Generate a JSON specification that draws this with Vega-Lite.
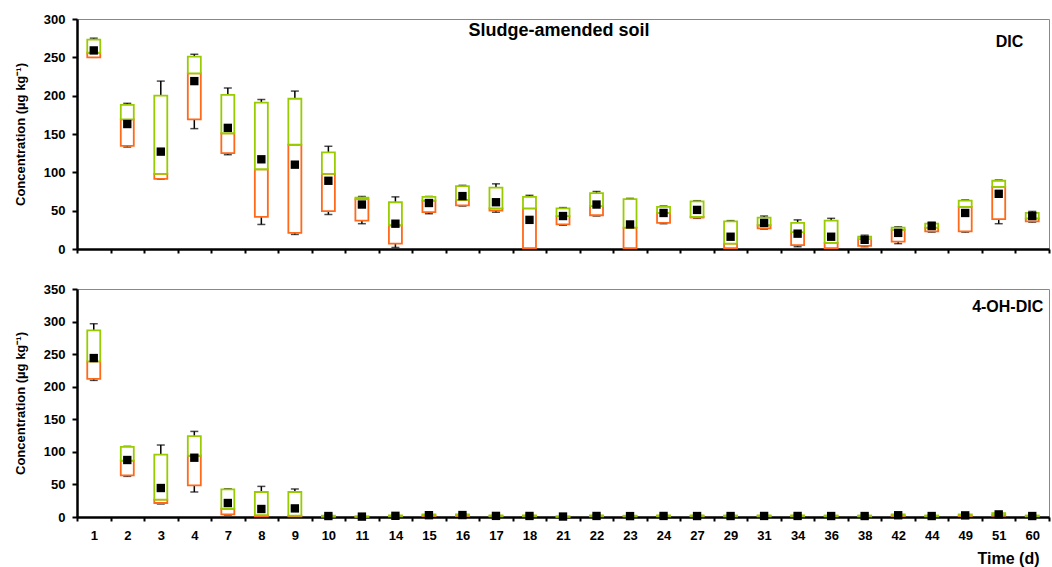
{
  "$schema": "https://vega.github.io/schema/vega-lite/v6.json",
  "padding": {"left": 13, "top": 12, "right": 2, "bottom": 5},
  "bounds": "flush",
  "spacing": 40,
  "config": {
    "font": "Liberation Sans",
    "view": {"stroke": "#888888", "strokeWidth": 1},
    "axis": {
      "domainColor": "black", "domainWidth": 2.5,
      "tickColor": "black", "tickWidth": 2,
      "labelColor": "black", "labelFontWeight": "bold", "labelFontSize": 13,
      "titleColor": "black", "titleFontWeight": "bold", "grid": false
    },
    "axisY": {"title": "Concentration (µg kg⁻¹)", "titleFontSize": 13, "titlePadding": 16, "tickSize": 5, "labelPadding": 7, "labelOverlap": false}
  },
  "datasets": {
    "dic": [
      {"time": "1", "min": 250, "q1": 250, "median": 256, "q3": 273, "max": 275, "mean": 259},
      {"time": "2", "min": 133, "q1": 134.5, "median": 169, "q3": 188, "max": 190, "mean": 163},
      {"time": "3", "min": 91, "q1": 91.5, "median": 98, "q3": 200, "max": 219, "mean": 127},
      {"time": "4", "min": 157, "q1": 169, "median": 229, "q3": 251, "max": 254, "mean": 219},
      {"time": "7", "min": 123, "q1": 125, "median": 151, "q3": 201, "max": 210, "mean": 158},
      {"time": "8", "min": 32, "q1": 42, "median": 104, "q3": 191, "max": 195, "mean": 117},
      {"time": "9", "min": 19, "q1": 21, "median": 136, "q3": 196, "max": 206, "mean": 110},
      {"time": "10", "min": 45, "q1": 49.5, "median": 98, "q3": 126, "max": 134, "mean": 89},
      {"time": "11", "min": 33, "q1": 37, "median": 65, "q3": 67, "max": 68.5, "mean": 58},
      {"time": "14", "min": 2, "q1": 7, "median": 31, "q3": 61, "max": 68, "mean": 33},
      {"time": "15", "min": 46, "q1": 48, "median": 63, "q3": 68, "max": 68.5, "mean": 60},
      {"time": "16", "min": 56, "q1": 57, "median": 64, "q3": 82, "max": 83, "mean": 69},
      {"time": "17", "min": 48, "q1": 50, "median": 53, "q3": 80, "max": 85, "mean": 61},
      {"time": "18", "min": 0, "q1": 1, "median": 53, "q3": 68, "max": 70, "mean": 38},
      {"time": "21", "min": 31, "q1": 32, "median": 43, "q3": 53, "max": 54, "mean": 43},
      {"time": "22", "min": 43, "q1": 44, "median": 56, "q3": 73, "max": 75, "mean": 58},
      {"time": "23", "min": 0, "q1": 1, "median": 28, "q3": 65, "max": 66, "mean": 32},
      {"time": "24", "min": 33, "q1": 34, "median": 47, "q3": 55, "max": 56, "mean": 47},
      {"time": "27", "min": 40, "q1": 41, "median": 42, "q3": 62, "max": 63, "mean": 51},
      {"time": "29", "min": 0, "q1": 1, "median": 7, "q3": 36, "max": 37, "mean": 16},
      {"time": "31", "min": 26, "q1": 27, "median": 31, "q3": 41, "max": 43, "mean": 34},
      {"time": "34", "min": 3, "q1": 5, "median": 22, "q3": 34, "max": 38, "mean": 20},
      {"time": "36", "min": 0, "q1": 1, "median": 8, "q3": 37, "max": 40, "mean": 16},
      {"time": "38", "min": 3, "q1": 4, "median": 13, "q3": 16, "max": 18, "mean": 12},
      {"time": "42", "min": 7, "q1": 9.5, "median": 25, "q3": 28, "max": 29, "mean": 21},
      {"time": "44", "min": 22, "q1": 23, "median": 28, "q3": 33, "max": 35, "mean": 30},
      {"time": "49", "min": 22, "q1": 23, "median": 55, "q3": 63, "max": 64, "mean": 47},
      {"time": "51", "min": 33, "q1": 39, "median": 81, "q3": 89, "max": 90, "mean": 72},
      {"time": "60", "min": 35, "q1": 36, "median": 40, "q3": 47, "max": 49, "mean": 43}
    ],
    "oh": [
      {"time": "1", "min": 209.7, "q1": 212, "median": 239, "q3": 286.5, "max": 296.7, "mean": 244},
      {"time": "2", "min": 62.4, "q1": 64, "median": 86.4, "q3": 107.5, "max": 108.4, "mean": 87.5},
      {"time": "3", "min": 20, "q1": 21.5, "median": 26.6, "q3": 95.6, "max": 110.5, "mean": 44.5},
      {"time": "4", "min": 38.4, "q1": 48.5, "median": 94, "q3": 124.3, "max": 131.4, "mean": 91},
      {"time": "7", "min": 3, "q1": 4, "median": 12.7, "q3": 42.4, "max": 43.4, "mean": 21.5},
      {"time": "8", "min": 0.5, "q1": 1, "median": 3, "q3": 38.4, "max": 47, "mean": 12.3},
      {"time": "9", "min": 0.5, "q1": 1, "median": 2, "q3": 38.4, "max": 43, "mean": 13.2},
      {"time": "10", "min": 0, "q1": 0.5, "median": 1, "q3": 2, "max": 3, "mean": 1.5},
      {"time": "11", "min": 0, "q1": 0.2, "median": 0.5, "q3": 1, "max": 1.5, "mean": 0.6},
      {"time": "14", "min": 0.5, "q1": 1, "median": 1.5, "q3": 2.5, "max": 3, "mean": 1.8},
      {"time": "15", "min": 1, "q1": 1.5, "median": 2.5, "q3": 4, "max": 5, "mean": 2.8},
      {"time": "16", "min": 1, "q1": 1.5, "median": 2.5, "q3": 4, "max": 5, "mean": 3},
      {"time": "17", "min": 0.5, "q1": 1, "median": 1.5, "q3": 2.5, "max": 3, "mean": 1.7},
      {"time": "18", "min": 0.5, "q1": 1, "median": 1.5, "q3": 2.5, "max": 3, "mean": 1.6},
      {"time": "21", "min": 0, "q1": 0.2, "median": 0.5, "q3": 1, "max": 1.5, "mean": 0.7},
      {"time": "22", "min": 0.5, "q1": 1, "median": 1.5, "q3": 2.5, "max": 3, "mean": 1.6},
      {"time": "23", "min": 0.5, "q1": 1, "median": 1.2, "q3": 2, "max": 2.5, "mean": 1.4},
      {"time": "24", "min": 0.5, "q1": 1, "median": 1.5, "q3": 2.5, "max": 3, "mean": 1.6},
      {"time": "27", "min": 0.5, "q1": 1, "median": 1.5, "q3": 2.5, "max": 3, "mean": 1.5},
      {"time": "29", "min": 0.5, "q1": 1, "median": 1.3, "q3": 2.3, "max": 3, "mean": 1.5},
      {"time": "31", "min": 0.5, "q1": 1, "median": 1.5, "q3": 2.5, "max": 3, "mean": 1.6},
      {"time": "34", "min": 0.5, "q1": 1, "median": 1.5, "q3": 2.5, "max": 3, "mean": 1.6},
      {"time": "36", "min": 0.5, "q1": 1, "median": 1.3, "q3": 2.3, "max": 3, "mean": 1.5},
      {"time": "38", "min": 0.5, "q1": 1, "median": 1.3, "q3": 2.3, "max": 3, "mean": 1.5},
      {"time": "42", "min": 1, "q1": 1.5, "median": 2.5, "q3": 4, "max": 5, "mean": 2.7},
      {"time": "44", "min": 0.5, "q1": 1, "median": 1.3, "q3": 2.3, "max": 3, "mean": 1.5},
      {"time": "49", "min": 1, "q1": 1.5, "median": 2.5, "q3": 4, "max": 5, "mean": 2.5},
      {"time": "51", "min": 1.5, "q1": 2, "median": 3.5, "q3": 6, "max": 7, "mean": 4},
      {"time": "60", "min": 0.5, "q1": 1, "median": 1.3, "q3": 2.3, "max": 3, "mean": 1.5}
    ]
  },
  "vconcat": [
    {
      "width": 972,
      "height": 230,
      "data": {"name": "dic"},
      "encoding": {
        "x": {
          "field": "time", "type": "ordinal",
          "scale": {"domain": ["1","2","3","4","7","8","9","10","11","14","15","16","17","18","21","22","23","24","27","29","31","34","36","38","42","44","49","51","60"], "paddingInner": 0, "paddingOuter": 0},
          "axis": {"labels": false, "title": null, "tickBand": "extent", "tickSize": 4}
        }
      },
      "layer": [
        {
          "mark": {"type": "rule", "color": "black", "strokeWidth": 1.5},
          "encoding": {
            "y": {"field": "min", "type": "quantitative", "title": "Concentration (µg kg⁻¹)",
              "scale": {"domain": [0, 300], "nice": false},
              "axis": {"values": [0,50,100,150,200,250,300]}},
            "y2": {"field": "max"}
          }
        },
        {
          "mark": {"type": "tick", "color": "black", "size": 8, "thickness": 1.5},
          "encoding": {"y": {"field": "max", "type": "quantitative", "title": "Concentration (µg kg⁻¹)", "axis": {"values": [0,50,100,150,200,250,300]}}}
        },
        {
          "mark": {"type": "tick", "color": "black", "size": 8, "thickness": 1.5},
          "encoding": {"y": {"field": "min", "type": "quantitative", "title": "Concentration (µg kg⁻¹)", "axis": {"values": [0,50,100,150,200,250,300]}}}
        },
        {
          "mark": {"type": "bar", "fill": "white", "stroke": "#ff6a1a", "strokeWidth": 1.8, "size": 13},
          "encoding": {"y": {"field": "q1", "type": "quantitative", "title": "Concentration (µg kg⁻¹)", "axis": {"values": [0,50,100,150,200,250,300]}}, "y2": {"field": "median"}}
        },
        {
          "mark": {"type": "bar", "fill": "white", "stroke": "#99cc00", "strokeWidth": 1.8, "size": 13},
          "encoding": {"y": {"field": "median", "type": "quantitative", "title": "Concentration (µg kg⁻¹)", "axis": {"values": [0,50,100,150,200,250,300]}}, "y2": {"field": "q3"}}
        },
        {
          "mark": {"type": "point", "shape": "square", "filled": true, "color": "black", "size": 70, "opacity": 1},
          "encoding": {"y": {"field": "mean", "type": "quantitative", "title": "Concentration (µg kg⁻¹)", "axis": {"values": [0,50,100,150,200,250,300]}}}
        },
        {
          "data": {"values": [{}]},
          "mark": {"type": "text", "text": "Sludge-amended soil", "fontSize": 18, "fontWeight": "bold", "align": "center", "baseline": "middle", "dx": -4, "color": "black"},
          "encoding": {"x": {"datum": "21"}, "y": {"datum": 285, "type": "quantitative", "title": "Concentration (µg kg⁻¹)", "axis": {"values": [0,50,100,150,200,250,300]}}}
        },
        {
          "data": {"values": [{}]},
          "mark": {"type": "text", "text": "DIC", "fontSize": 16, "fontWeight": "bold", "align": "right", "baseline": "middle", "dx": -9, "color": "black"},
          "encoding": {"x": {"datum": "60"}, "y": {"datum": 270, "type": "quantitative", "title": "Concentration (µg kg⁻¹)", "axis": {"values": [0,50,100,150,200,250,300]}}}
        }
      ]
    },
    {
      "width": 972,
      "height": 228,
      "data": {"name": "oh"},
      "encoding": {
        "x": {
          "field": "time", "type": "ordinal",
          "scale": {"domain": ["1","2","3","4","7","8","9","10","11","14","15","16","17","18","21","22","23","24","27","29","31","34","36","38","42","44","49","51","60"], "paddingInner": 0, "paddingOuter": 0},
          "axis": {"title": "Time (d)", "titleFontSize": 16, "titleAnchor": "end", "titleAlign": "right", "titleX": 962, "titlePadding": 8, "tickBand": "extent", "tickSize": 4, "labelPadding": 8, "labelAngle": 0}
        }
      },
      "layer": [
        {
          "mark": {"type": "rule", "color": "black", "strokeWidth": 1.5},
          "encoding": {
            "y": {"field": "min", "type": "quantitative", "title": "Concentration (µg kg⁻¹)",
              "scale": {"domain": [0, 350], "nice": false},
              "axis": {"values": [0,50,100,150,200,250,300,350]}},
            "y2": {"field": "max"}
          }
        },
        {
          "mark": {"type": "tick", "color": "black", "size": 8, "thickness": 1.5},
          "encoding": {"y": {"field": "max", "type": "quantitative", "title": "Concentration (µg kg⁻¹)", "axis": {"values": [0,50,100,150,200,250,300,350]}}}
        },
        {
          "mark": {"type": "tick", "color": "black", "size": 8, "thickness": 1.5},
          "encoding": {"y": {"field": "min", "type": "quantitative", "title": "Concentration (µg kg⁻¹)", "axis": {"values": [0,50,100,150,200,250,300,350]}}}
        },
        {
          "mark": {"type": "bar", "fill": "white", "stroke": "#ff6a1a", "strokeWidth": 1.8, "size": 13},
          "encoding": {"y": {"field": "q1", "type": "quantitative", "title": "Concentration (µg kg⁻¹)", "axis": {"values": [0,50,100,150,200,250,300,350]}}, "y2": {"field": "median"}}
        },
        {
          "mark": {"type": "bar", "fill": "white", "stroke": "#99cc00", "strokeWidth": 1.8, "size": 13},
          "encoding": {"y": {"field": "median", "type": "quantitative", "title": "Concentration (µg kg⁻¹)", "axis": {"values": [0,50,100,150,200,250,300,350]}}, "y2": {"field": "q3"}}
        },
        {
          "mark": {"type": "point", "shape": "square", "filled": true, "color": "black", "size": 70, "opacity": 1},
          "encoding": {"y": {"field": "mean", "type": "quantitative", "title": "Concentration (µg kg⁻¹)", "axis": {"values": [0,50,100,150,200,250,300,350]}}}
        },
        {
          "data": {"values": [{}]},
          "mark": {"type": "text", "text": "4-OH-DIC", "fontSize": 16, "fontWeight": "bold", "align": "right", "baseline": "middle", "dx": 11, "color": "black"},
          "encoding": {"x": {"datum": "60"}, "y": {"datum": 322, "type": "quantitative", "title": "Concentration (µg kg⁻¹)", "axis": {"values": [0,50,100,150,200,250,300,350]}}}
        }
      ]
    }
  ]
}
